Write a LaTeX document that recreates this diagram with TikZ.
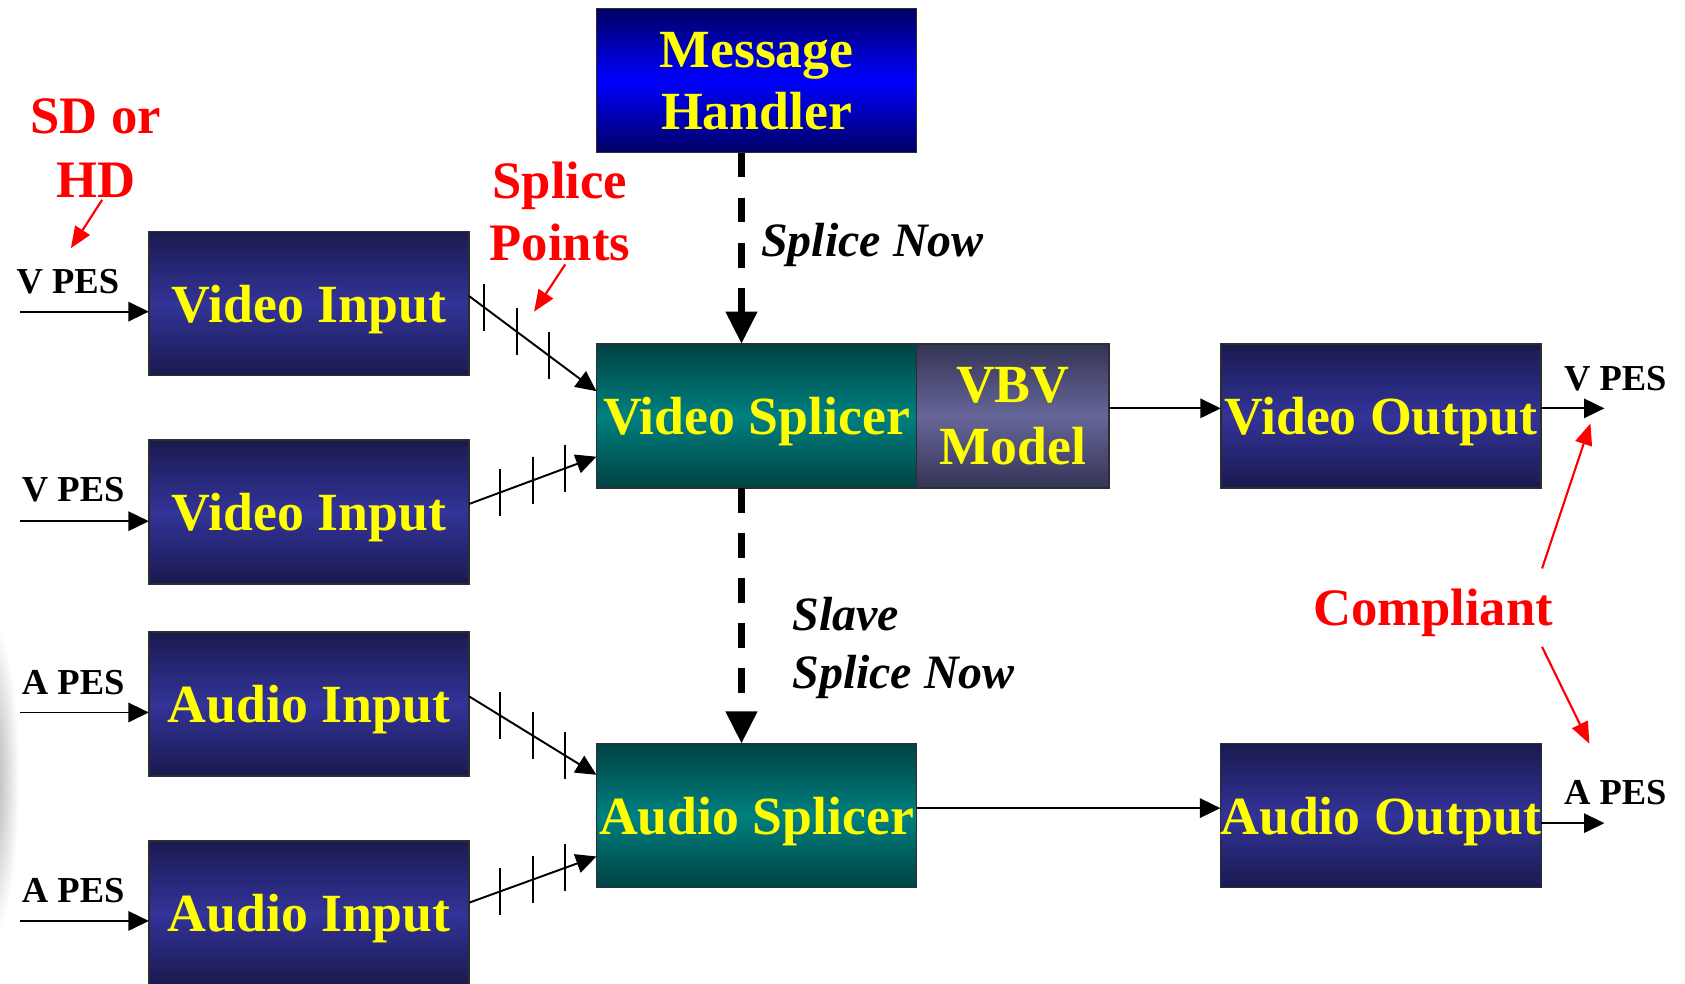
\documentclass[tikz,border=0pt]{standalone}
\usepackage{fontspec}
\setmainfont{Liberation Serif}
\usetikzlibrary{arrows.meta,calc}

\definecolor{navyedge}{RGB}{26,26,80}
\definecolor{navymid}{RGB}{51,51,153}
\definecolor{tealedge}{RGB}{0,66,66}
\definecolor{tealmid}{RGB}{0,128,128}
\definecolor{slateedge}{RGB}{52,52,86}
\definecolor{slatemid}{RGB}{102,102,153}
\definecolor{blueedge}{RGB}{0,0,100}
\definecolor{bluemid}{RGB}{0,0,255}
\definecolor{boxline}{RGB}{45,45,45}
\definecolor{labelyellow}{RGB}{255,255,0}
\definecolor{notered}{RGB}{255,0,0}

\begin{document}
\begin{tikzpicture}[x=0.5pt,y=-0.5pt,
  block/.style={draw=boxline, line width=0.75pt, inner sep=0pt, outer sep=0pt,
    minimum width=149pt, minimum height=67pt, text=labelyellow, text depth=-3pt,
    font=\fontsize{25}{29}\selectfont\bfseries, align=center},
  navyblock/.style={block, top color=navyedge, bottom color=navyedge, middle color=navymid},
  tealblock/.style={block, top color=tealedge, bottom color=tealedge, middle color=tealmid},
  slateblock/.style={block, top color=slateedge, bottom color=slateedge, middle color=slatemid},
  blueblock/.style={block, top color=blueedge, bottom color=blueedge, middle color=bluemid},
  conn/.style={line width=0.9pt, -{Triangle[length=9.5pt,width=9pt]}},
  tick/.style={line width=0.9pt},
  signal/.style={line width=3.25pt, dash pattern=on 11.5pt off 9.5pt,
    -{Triangle[length=15pt,width=14pt]}},
  note/.style={line width=1pt, draw=notered, -{Triangle[length=10pt,width=8pt]}},
  pes/.style={inner sep=0pt, font=\fontsize{17}{20}\selectfont\bfseries},
  cmd/.style={inner sep=0pt, font=\fontsize{22.3}{27}\selectfont\bfseries\itshape},
  remark/.style={inner sep=0pt, text=notered, align=center}
]
\useasboundingbox (0,0) rectangle (1568,915);

% soft grey smudge at the left edge
\shade[inner color=black!35, outer color=white] (-10,725) ellipse [x radius=28, y radius=150];

% processing blocks
\node[navyblock] (vin1) at (287.5,282.5) {Video Input};
\node[navyblock] (vin2) at (287.5,476.5) {Video Input};
\node[navyblock] (ain1) at (287.5,655) {Audio Input};
\node[navyblock] (ain2) at (287.5,849.5) {Audio Input};
\node[blueblock] (msg) at (704,75) {Message\\Handler};
\node[tealblock] (vsp) at (704,387) {Video Splicer};
\node[slateblock, minimum width=89.5pt] (vbv) at (942.5,387) {VBV\\Model};
\node[navyblock] (vout) at (1285,387) {Video Output};
\node[tealblock] (asp) at (704,759) {Audio Splicer};
\node[navyblock] (aout) at (1285,759) {Audio Output};

% stream labels
\node[pes, anchor=base west] (lv1) at (15,273) {V PES};
\node[pes, anchor=base west] (lv2) at (20,467) {V PES};
\node[pes, anchor=base west] (la1) at (20,646) {A PES};
\node[pes, anchor=base west] (la2) at (20,840) {A PES};
\node[pes, anchor=base west] (rv) at (1455,363) {V PES};
\node[pes, anchor=base west] (ra) at (1455,749) {A PES};

% incoming streams
\coordinate (inv1) at (19,290);
\coordinate (inv2) at (19,485);
\coordinate (ina1) at (19,663);
\coordinate (ina2) at (19,857);
\draw[conn] (inv1) -- (vin1.west |- inv1);
\draw[conn] (inv2) -- (vin2.west |- inv2);
\draw[conn] (ina1) -- (ain1.west |- ina1);
\draw[conn] (ina2) -- (ain2.west |- ina2);

% inputs to splicers, with splice point ticks
\draw[conn] ($(vin1.east)+(0,-7)$) -- coordinate[pos=0.119] (p11) coordinate[pos=0.373] (p12)
  coordinate[pos=0.627] (p13) ($(vsp.west)+(0,-23)$);
\draw[conn] ($(vin2.east)+(0,-7.5)$) -- coordinate[pos=0.246] (p21) coordinate[pos=0.5] (p22)
  coordinate[pos=0.754] (p23) ($(vsp.west)+(0,38)$);
\draw[conn] ($(ain1.east)+(0,-7)$) -- coordinate[pos=0.246] (p31) coordinate[pos=0.5] (p32)
  coordinate[pos=0.754] (p33) ($(asp.west)+(0,-38)$);
\draw[conn] ($(ain2.east)+(0,-9.5)$) -- coordinate[pos=0.246] (p41) coordinate[pos=0.5] (p42)
  coordinate[pos=0.754] (p43) ($(asp.west)+(0,38)$);
\foreach \t in {p11,p12,p13,p21,p22,p23,p31,p32,p33,p41,p42,p43}
  \draw[tick] (\t) ++(0,-22) -- ++(0,44);

% control signals
\draw[signal] ($(msg.south)+(-14,0)$) -- ($(vsp.north)+(-14,0)$);
\draw[signal] ($(vsp.south)+(-14,0)$) -- ($(asp.north)+(-14,0)$);
\node[cmd, anchor=base west] (now) at (708,239) {Splice Now};
\node[cmd, anchor=west, align=left] (slave) at (737,603) {Slave\\Splice Now};

% outputs
\draw[conn] ($(vbv.east)+(0,-7)$) -- ($(vout.west)+(0,-7)$);
\draw[conn] ($(asp.east)+(0,-7)$) -- ($(aout.west)+(0,-7)$);
\coordinate (outv) at (1493,380);
\coordinate (outa) at (1493,766);
\draw[conn] (vout.east |- outv) -- (outv);
\draw[conn] (aout.east |- outa) -- (outa);

% remarks
\node[remark, font=\fontsize{24.5}{30}\selectfont\bfseries] (sdhd) at (89,138) {SD or\\HD};
\node[remark, font=\fontsize{24.5}{29}\selectfont\bfseries] (spts) at (521,197) {Splice\\Points};
\node[remark, anchor=base, font=\fontsize{24.5}{29}\selectfont\bfseries] (comp) at (1333.5,582) {Compliant};
\coordinate (sdtail) at (95,186);
\coordinate (sdtip) at (66,231);
\coordinate (sptail) at (526,246);
\coordinate (sptip) at (497,290);
\coordinate (cuptail) at (1435,529);
\coordinate (cuptip) at (1480,394);
\coordinate (cdntail) at (1435,602);
\coordinate (cdntip) at (1479,692);
\draw[note] (sdtail) -- (sdtip);
\draw[note] (sptail) -- (sptip);
\draw[note] (cuptail) -- (cuptip);
\draw[note] (cdntail) -- (cdntip);
\end{tikzpicture}
\end{document}
